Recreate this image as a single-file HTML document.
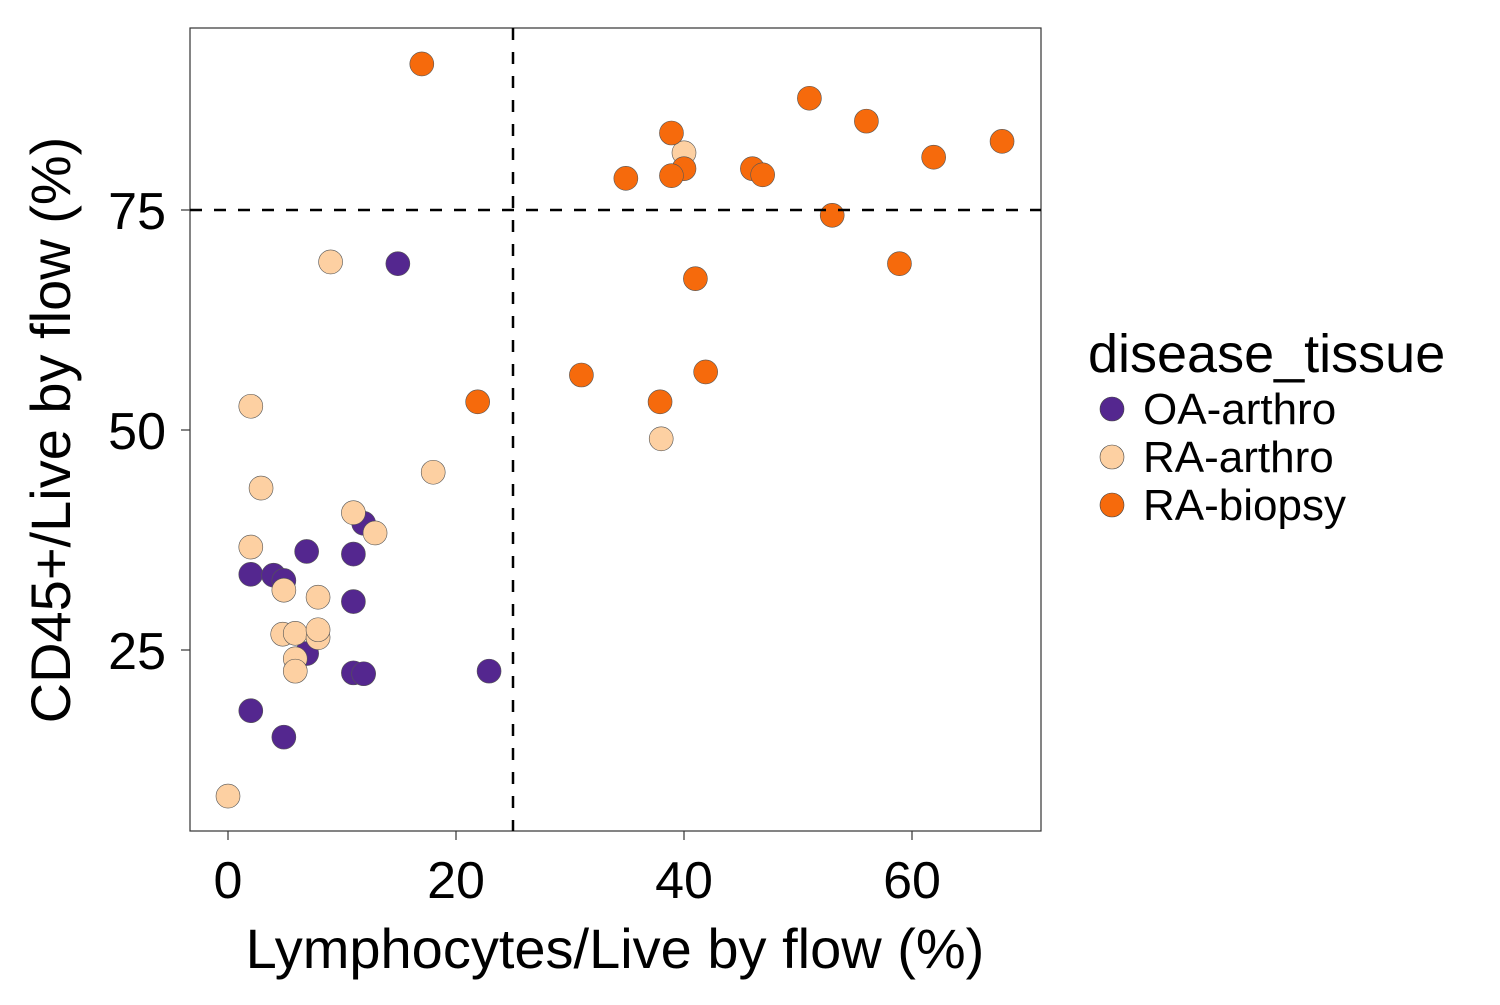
<!DOCTYPE html>
<html><head><meta charset="utf-8"><style>
body{margin:0;background:#fff;}
text{font-family:"Liberation Sans",Arial,sans-serif;fill:#000;}
</style></head><body>
<svg id="chart" width="1500" height="1000">
<rect x="190" y="28" width="851" height="803" fill="#fff" stroke="#333" stroke-width="1.2"/>
<g id="marks"></g>
<g id="axes"></g>
<text x="615" y="968" font-size="56" text-anchor="middle">Lymphocytes/Live by flow (%)</text>
<text transform="translate(70,430) rotate(-90)" font-size="56" text-anchor="middle">CD45+/Live by flow (%)</text>
<g>
<text x="1088" y="372" font-size="54">disease_tissue</text>
<g><circle cx="1112" cy="409" r="12" fill="#54278f" stroke="#444" stroke-width="0.6"/><text x="1143" y="424" font-size="44">OA-arthro</text></g>
<g><circle cx="1112" cy="457" r="12" fill="#fdd0a2" stroke="#444" stroke-width="0.6"/><text x="1143" y="472" font-size="44">RA-arthro</text></g>
<g><circle cx="1112" cy="505" r="12" fill="#f66a0c" stroke="#444" stroke-width="0.6"/><text x="1143" y="520" font-size="44">RA-biopsy</text></g>
</g>
</svg>
<script>
const oaX=[11.9,6.9,11,2,4,4.9,11,6.9,11,11.9,22.9,2,4.9,14.9];
const oaY=[39.4,36.2,35.9,33.6,33.5,32.9,30.5,24.6,22.4,22.3,22.6,18.1,15.1,68.9];
const raArthroX=[2,18,2.9,11,12.9,2,4.9,7.9,4.8,5.9,7.9,7.9,5.9,5.9,0,9,40,38];
const raArthroY=[52.7,45.2,43.4,40.6,38.3,36.7,31.8,31.0,26.8,26.9,26.4,27.3,24.0,22.6,8.4,69.1,81.5,49.0];
const raBiopsyX=[17,21.9,31,37.9,41.9,41,34.9,38.9,40,38.9,46,46.9,51,53,56,61.9,67.9,58.9];
const raBiopsyY=[91.6,53.2,56.25,53.2,56.6,67.2,78.6,83.75,79.7,78.9,79.7,79.0,87.7,74.4,85.1,81.0,82.8,68.9];
const xTicks=[0,20,40,60];
const yTicks=[25,50,75];
const vLine=25, hLine=75;
const sx=v=>228+v*11.4;
const sy=v=>210-(v-75)*8.8;
const NS="http://www.w3.org/2000/svg";
const marks=document.getElementById('marks');
const axes=document.getElementById('axes');
function mk(tag,attrs,parent){const e=document.createElementNS(NS,tag);for(const k in attrs)e.setAttribute(k,attrs[k]);parent.appendChild(e);return e;}
function series(xs,ys,color,name){xs.forEach((x,i)=>{const c=mk('circle',{cx:sx(x),cy:sy(ys[i]),r:12,fill:color,stroke:'#555','stroke-width':0.6},marks);

});}
series(oaX,oaY,'#54278f','oa-arthro');
series(raArthroX,raArthroY,'#fdd0a2','ra-arthro');
series(raBiopsyX,raBiopsyY,'#f66a0c','ra-biopsy');
const vl=mk('line',{x1:sx(vLine),x2:sx(vLine),y1:28,y2:831,stroke:'#000','stroke-width':2.5,'stroke-dasharray':'12,12'},axes);


const hl=mk('line',{x1:190,x2:1041,y1:sy(hLine),y2:sy(hLine),stroke:'#000','stroke-width':2.5,'stroke-dasharray':'12,12'},axes);


xTicks.forEach(t=>{mk('line',{x1:sx(t),x2:sx(t),y1:831,y2:840,stroke:'#333','stroke-width':1.2},axes);
const tx=mk('text',{x:sx(t),y:898,'font-size':52,'text-anchor':'middle'},axes);tx.textContent=t;

});
yTicks.forEach(t=>{mk('line',{x1:181,x2:190,y1:sy(t),y2:sy(t),stroke:'#333','stroke-width':1.2},axes);
const tx=mk('text',{x:166,y:sy(t)+19,'font-size':52,'text-anchor':'end'},axes);tx.textContent=t;

});
</script>
</body></html>
